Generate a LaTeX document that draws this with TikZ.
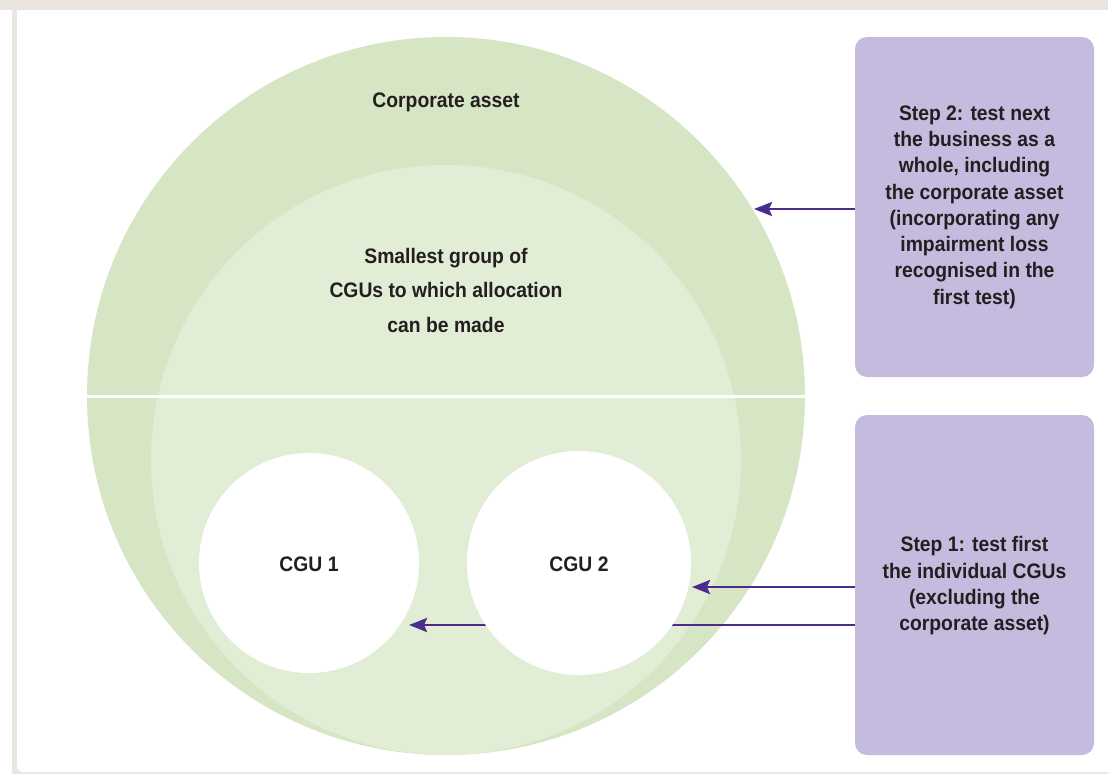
\documentclass[tikz,border=0pt]{standalone}
\usepackage{fontspec}
\setmainfont{Liberation Sans}
\newfontfamily\cond[FakeStretch=0.92]{Liberation Sans}
\usetikzlibrary{arrows.meta}
\definecolor{frame}{HTML}{EAE5DF}
\definecolor{biggreen}{HTML}{D6E6C4}
\definecolor{innergreen}{HTML}{E2EDD6}
\definecolor{lav}{HTML}{C4BBDE}
\definecolor{arr}{HTML}{4B2C8E}
\definecolor{txt}{HTML}{231F20}
\tikzset{
  lbl/.style={font=\cond\bfseries\fontsize{21}{26.3}\selectfont, text=txt, align=center},
  circlbl/.style={font=\cond\bfseries\fontsize{21}{34.5}\selectfont, text=txt, align=center},
  stepbox/.style={fill=lav, rounded corners=12pt, minimum width=239pt, minimum height=340pt, inner sep=0pt},
  cgu/.style={circle, fill=white, inner sep=0pt},
  conn/.style={draw=arr, line width=2.8pt, -{Stealth[length=18pt, width=14pt, inset=3pt]}}
}
\begin{document}
\begin{tikzpicture}[x=1pt,y=-1pt]
\useasboundingbox (0,0) rectangle (1108,774);
% frame
\fill[frame] (0,0) rectangle (1108,10);
\fill[frame] (12,10) rectangle (1108,774);
\fill[white] (17,10) -- (1120,10) -- (1120,772) -- (23,772) arc[start angle=270, end angle=180, radius=6pt] -- cycle;
% circles
\node[circle, fill=biggreen, minimum size=718pt, inner sep=0pt] (big) at (446,396) {};
\node[circle, fill=innergreen, minimum size=590pt, inner sep=0pt] (inner) at (446,460) {};
\draw[white, line width=3pt] (big.west) -- (big.east);
\node[lbl] (corp) at (446,102) {Corporate asset};
\node[circlbl] (small) at (446,290) {Smallest group of\\CGUs to which allocation\\can be made};
% boxes
\node[stepbox] (step2) at (974.5,207) {};
\node[lbl] (step2t) at (974.5,207) {Step 2: test next\\the business as a\\whole, including\\the corporate asset\\(incorporating any\\impairment loss\\recognised in the\\first test)};
\node[stepbox] (step1) at (974.5,585) {};
\node[lbl] (step1t) at (974.5,586) {Step 1: test first\\the individual CGUs\\(excluding the\\corporate asset)};
% CGU 1
\node[cgu, minimum size=220pt] (cgu1) at (309,563) {};
\node[lbl] (cgu1t) at (309,564) {CGU 1};
% connectors
\coordinate (s2a) at (step2.west |- 0,209);
\coordinate (t2a) at (754,209);
\draw[conn] (s2a) -- (t2a);
\coordinate (s1b) at (step1.west |- 0,625);
\coordinate (t1b) at (409,625);
\draw[conn] (s1b) -- (t1b);
% CGU 2 on top of the lower connector
\node[cgu, minimum size=224pt] (cgu2) at (579,563) {};
\node[lbl] (cgu2t) at (579,564) {CGU 2};
\coordinate (s1a) at (step1.west |- 0,587);
\coordinate (t1a) at (692,587);
\draw[conn] (s1a) -- (t1a);
\end{tikzpicture}
\end{document}
